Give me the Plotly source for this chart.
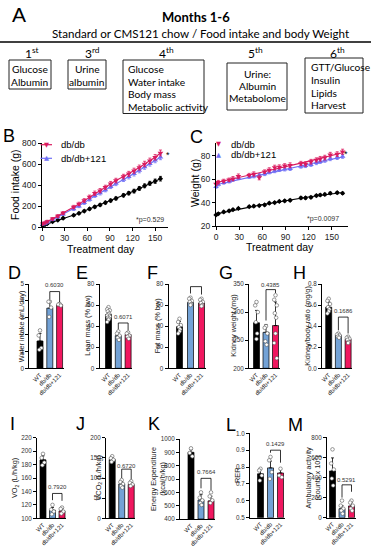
import numpy as np
import plotly.graph_objects as go

W, H = 371, 550
FONT = "Liberation Sans"
AFONT = "Lato"


def fx(x):
    return x / W


def fy(y):
    return 1 - y / H


COL_DB = "#DA1A5E"
COL_121 = "#6F6FF5"
BAR_COLORS = ["#000000", "#73A2D6", "#F0175F"]

groups = ["WT", "db/db", "db/db+121"]

# ---------------- B: cumulative food intake (g) ----------------
B_days = [1, 4, 7, 14, 21, 28, 42, 49, 56, 63, 70, 77, 84, 91, 98, 108, 115, 122, 129, 136, 143, 150, 157]
B_dbdb = [32, 40, 52, 78, 104, 133, 190, 220, 252, 286, 322, 346, 378, 412, 442, 480, 506, 536, 566, 600, 630, 664, 705]
B_dbdb_err = [10, 10, 12, 12, 14, 14, 16, 16, 18, 18, 20, 20, 20, 22, 22, 22, 24, 24, 24, 26, 26, 26, 28]
B_121 = [27, 34, 46, 70, 96, 122, 172, 198, 231, 263, 298, 323, 353, 384, 414, 453, 478, 508, 538, 572, 602, 636, 665]
B_121_err = [8, 8, 10, 10, 12, 12, 14, 14, 16, 16, 16, 18, 18, 18, 20, 20, 20, 22, 22, 22, 22, 24, 24]
B_wt = [15, 22, 32, 50, 66, 84, 112, 130, 152, 172, 192, 210, 232, 252, 272, 302, 322, 342, 367, 392, 416, 436, 460]
B_wt_err = [5, 5, 6, 6, 7, 8, 9, 10, 10, 11, 12, 12, 13, 14, 14, 15, 16, 17, 18, 18, 19, 20, 22]

# ---------------- C: body weight (g) ----------------
C_days = [0, 3, 10, 17, 22, 29, 43, 49, 56, 63, 69, 76, 82, 89, 96, 110, 116, 123, 130, 135, 141, 148, 157, 164]
C_dbdb = [56, 57.5, 58.5, 59.5, 60.5, 62.5, 63.5, 64.5, 61.5, 66.5, 68, 70, 70.5, 71.5, 72, 73.5, 73, 75, 76.5, 77.5, 78.5, 81, 81.5, 83.5]
C_dbdb_err = [1.5, 1.5, 1.5, 1.5, 1.8, 2, 1.5, 1.8, 2, 1.5, 1.8, 2, 1.8, 1.8, 2, 1.8, 1.8, 2, 1.8, 2, 2, 2, 2, 2.2]
C_121 = [53.5, 55.5, 57, 58, 59.5, 61, 62, 62.5, 63.5, 64.5, 66, 67, 68, 68.5, 69, 71, 71.5, 72.5, 74, 75, 76, 77.5, 78.5, 79.5]
C_121_err = [1.2, 1.2, 1.2, 1.2, 1.2, 1.3, 1.3, 1.3, 1.3, 1.4, 1.4, 1.4, 1.4, 1.4, 1.5, 1.5, 1.5, 1.5, 1.5, 1.5, 1.5, 1.6, 1.6, 1.6]
C_wt = [29.5, 30.5, 32, 33, 34, 35, 36.5, 37, 37.5, 38, 39.5, 40, 41, 41.5, 42, 44, 44, 44.5, 46, 46.5, 47, 48, 48.5, 48]
C_wt_err = [0.8, 0.8, 0.8, 0.8, 0.8, 0.8, 0.8, 0.9, 0.9, 0.9, 0.9, 0.9, 0.9, 0.9, 1, 1, 1, 1, 1, 1, 1, 1, 1, 1]

# ---------------- D-M: bar panels ----------------
D_mean = [1.62, 3.57, 3.77]
D_sd = [0.45, 0.42, 0.08]
D_pts = [[2.25, 1.95, 1.2, 1.1], [3.95, 3.95, 3.6, 3.05], [3.82, 3.78, 3.72]]
D_p = "0.6030"

E_mean = [51, 31, 32]
E_sd = [4.5, 3, 2.5]
E_pts = [[58, 56, 55, 54, 52, 51, 50, 49, 48, 47, 46, 44], [35, 33, 31, 29, 27], [34, 33, 31, 30, 28]]
E_p = "0.6071"

F_mean = [39.5, 62.5, 62]
F_sd = [5, 3, 3]
F_pts = [[47, 44, 41, 39, 37, 35, 33], [67, 66, 64, 63, 61, 60], [66, 65, 63, 62, 60, 59]]
F_p = "0.5511"

G_mean = [281, 264, 276]
G_sd = [22, 14, 42]
G_pts = [[318, 312, 300, 282, 262, 252], [275, 272, 262, 248, 242], [330, 322, 312, 298, 290, 262, 245, 218]]
G_p = "0.4385"

H_mean = [0.58, 0.315, 0.275]
H_sd = [0.05, 0.02, 0.02]
H_pts = [[0.66, 0.64, 0.61, 0.58, 0.56, 0.54, 0.52], [0.33, 0.32, 0.31, 0.30, 0.29], [0.30, 0.29, 0.28, 0.27, 0.25, 0.24]]
H_p = "0.1686"

I_mean = [187, 112, 111]
I_sd = [6, 4, 4]
I_pts = [[196, 190, 183, 179], [120, 113, 110, 106], [116, 114, 110, 107]]
I_p = "0.7920"

J_mean = [146, 85, 84]
J_sd = [6, 6, 5]
J_pts = [[154, 149, 145, 140], [95, 90, 85, 80, 76], [92, 88, 84, 80]]
J_p = "0.6720"

K_mean = [900, 543, 536]
K_sd = [20, 40, 35]
K_pts = [[930, 895, 870], [600, 560, 540, 520, 505], [600, 570, 540, 520]]
K_p = "0.7664"

L_mean = [0.76, 0.795, 0.765]
L_sd = [0.03, 0.04, 0.02]
L_pts = [[0.79, 0.78, 0.75, 0.72], [0.86, 0.84, 0.77, 0.73], [0.79, 0.75, 0.74]]
L_p = "0.1429"

M_mean = [465, 90, 117]
M_sd = [130, 30, 40]
M_pts = [[680, 540, 480, 390, 320], [170, 120, 90, 70, 40], [170, 150, 120, 90, 70]]
M_p = "0.5291"

fig = go.Figure()
layout = {}
annotations = []
shapes = []

base_axis = dict(showline=True, linecolor="black", linewidth=1, ticks="outside", ticklen=3,
                 tickwidth=0.8, tickcolor="black", showgrid=False, zeroline=False, fixedrange=True,
                 automargin=False)


def names(n):
    s = "" if n == 1 else str(n)
    return "xaxis" + s, "yaxis" + s, "x" + s, "y" + s


def ann(text, x, y, size, color="black", xanchor="center", yanchor="middle", family=FONT, angle=0, **kw):
    annotations.append(dict(text=text, x=fx(x), y=fy(y), xref="paper", yref="paper", showarrow=False,
                            xanchor=xanchor, yanchor=yanchor, textangle=angle,
                            font=dict(size=size, color=color, family=family), **kw))


# ---------------- Panel A ----------------
ann("A", 19, 14.5, 21)
ann("<b>Months 1-6</b>", 196, 17, 13, family=AFONT)
ann("Standard or CMS121 chow / Food intake and body Weight", 201, 33, 11.6, family=AFONT)
shapes.append(dict(type="line", xref="paper", yref="paper", x0=fx(0), x1=fx(371), y0=fy(42), y1=fy(42),
                   line=dict(color="black", width=1.5)))
for lab, x in [("1<sup>st</sup>", 32), ("3<sup>rd</sup>", 92), ("4<sup>th</sup>", 166),
               ("5<sup>th</sup>", 255), ("6<sup>th</sup>", 337)]:
    ann(lab, x, 52.5, 12, family=AFONT)
for (x0, y0, x1, y1) in [(9, 60, 51, 89), (68, 60, 106, 89), (123, 60, 204, 113.5),
                         (227, 63, 287, 110), (305, 58, 363, 113)]:
    shapes.append(dict(type="rect", xref="paper", yref="paper", x0=fx(x0), x1=fx(x1), y0=fy(y1), y1=fy(y0),
                       line=dict(color="#222", width=1)))
box_text = [
    (["Glucose", "Albumin"], 30, [69.5, 81.7], "center"),
    (["Urine", "albumin"], 87, [69.5, 81.7], "center"),
    (["Glucose", "Water intake", "Body mass", "Metabolic activity"], 126, [69, 81.5, 94, 106.7], "left"),
    (["Urine:", "Albumin", "Metabolome"], 257, [73.7, 86, 98], "center"),
    (["GTT/Glucose", "Insulin", "Lipids", "Harvest"], 308.5, [67.5, 80, 92.5, 105], "left"),
]
for lines, x, ys, anc in box_text:
    for t, y in zip(lines, ys):
        ann(t, x, y, 10.2, family=AFONT, xanchor=anc)

# ---------------- B & C line panels ----------------
line_panels = [
    dict(n=1, xdom=(42, 168), xr=[0, 167], ydom=(143, 227), yr=[0, 800], dtick=200, days=B_days,
         series=[(B_wt, B_wt_err, "black", "diamond"), (B_121, B_121_err, COL_121, "triangle-up"),
                 (B_dbdb, B_dbdb_err, COL_DB, "triangle-down")], fit=False),
    dict(n=2, xdom=(216, 348), xr=[0, 171], ydom=(143, 226), yr=[20, 91], dtick=20, days=C_days,
         series=[(C_wt, C_wt_err, "black", "diamond"), (C_121, C_121_err, COL_121, "triangle-up"),
                 (C_dbdb, C_dbdb_err, COL_DB, "triangle-down")], fit=True),
]
for P in line_panels:
    xa, ya, xr, yr = names(P["n"])
    layout[xa] = dict(base_axis, domain=[fx(P["xdom"][0]), fx(P["xdom"][1])], range=P["xr"], anchor=yr,
                      tickvals=[0, 30, 60, 90, 120, 150], tickfont=dict(size=8.5, color="#222"))
    layout[ya] = dict(base_axis, domain=[fy(P["ydom"][1]), fy(P["ydom"][0])], range=P["yr"], anchor=xr,
                      dtick=P["dtick"], tick0=0, tickfont=dict(size=8.5, color="#222"))
    for vals, errs, col, sym in P["series"]:
        size = 4 if sym == "diamond" else 5
        if P["fit"]:
            coef = np.polyfit(P["days"], vals, 2)
            xs = np.linspace(min(P["days"]), max(P["days"]), 60)
            fig.add_trace(go.Scatter(x=xs, y=np.polyval(coef, xs), mode="lines", line=dict(color=col, width=1.1),
                                     xaxis=xr, yaxis=yr, showlegend=False, hoverinfo="skip"))
            mode = "markers"
        else:
            mode = "lines+markers"
        fig.add_trace(go.Scatter(x=P["days"], y=vals, mode=mode, line=dict(color=col, width=1.1),
                                 marker=dict(symbol=sym, size=size, color=col),
                                 error_y=dict(type="data", array=errs, color=col, thickness=0.8, width=1.5),
                                 xaxis=xr, yaxis=yr, showlegend=False, cliponaxis=False))

# titles & letters B/C
ann("B", 9, 135.5, 18)
ann("C", 196, 136.5, 18)
ann("Food intake (g)", 15, 185, 10.5, angle=-90)
ann("Weight (g)", 195, 183, 10.5, angle=-90)
ann("Treatment day", 101, 248.5, 10.5)
ann("Treatment day", 280, 247.5, 10.5)
ann("*", 168, 155, 9)
ann("*", 346, 154, 9)
ann("*p=0.529", 166, 220, 7, color="#333", xanchor="right")
ann("*p=0.0097", 341, 219, 7, color="#333", xanchor="right")
# legends B
for y, col, glyph, txt in [(144.7, COL_DB, "\u25BC", "db/db"), (158.3, COL_121, "\u25B2", "db/db+121")]:
    shapes.append(dict(type="line", xref="paper", yref="paper", x0=fx(40.5), x1=fx(52), y0=fy(y), y1=fy(y),
                       line=dict(color=col, width=1.2)))
    ann(glyph, 46.3, y, 6.5, color=col, family="DejaVu Sans")
    ann(txt, 58.5, y, 9.5, xanchor="left")
# legends C
for y, col, glyph, txt in [(144, COL_DB, "\u25BC", "db/db"), (154.7, COL_121, "\u25B2", "db/db+121")]:
    ann(glyph, 218, y, 6.5, color=col, family="DejaVu Sans")
    ann(txt, 228.5, y, 9.5, xanchor="left")

# ---------------- bar panels ----------------
bar_panels = [
    dict(L="D", ax=29.3, c0=40, sp=9.8, top=284, bot=368.3, yr=[0, 5], dtick=1, fmt="d",
         mean=D_mean, sd=D_sd, pts=D_pts, p=D_p, br=(4.08, 4.55, 3.92), pt=4.95,
         title="Water intake (mL/day)", tx=21, lx=14, ly=272.5),
    dict(L="E", ax=99.5, c0=108.5, sp=9.8, top=284, bot=368.3, yr=[0, 80], dtick=20, fmt="d",
         mean=E_mean, sd=E_sd, pts=E_pts, p=E_p, br=(37, 43, 36), pt=48.5,
         title="Lean mass (% bw)", tx=87.5, lx=82, ly=272.5),
    dict(L="F", ax=168.5, c0=179.5, sp=11, top=284, bot=368.3, yr=[0, 80], dtick=20, fmt="d",
         mean=F_mean, sd=F_sd, pts=F_pts, p=F_p, br=(71, 77.5, 70), pt=82.5,
         title="Fat mass (% bw)", tx=157, lx=152, ly=272.5),
    dict(L="G", ax=249, c0=256.5, sp=9.5, top=284, bot=368.3, yr=[200, 350], dtick=50, fmt="d",
         mean=G_mean, sd=G_sd, pts=G_pts, p=G_p, br=(285, 340, 334), pt=349,
         title="Kidney weight (mg)", tx=233.5, lx=226, ly=272.5),
    dict(L="H", ax=322, c0=328.7, sp=9.7, top=284, bot=368.3, yr=[0, 0.8], dtick=0.2, fmt=".1f",
         mean=H_mean, sd=H_sd, pts=H_pts, p=H_p, br=(0.36, 0.486, 0.33), pt=0.545,
         title="Kidney/body ratio (mg/g)", tx=307.5, lx=299, ly=272.5),
    dict(L="I", ax=37, c0=43, sp=9.5, top=437.7, bot=518.3, yr=[100, 220], dtick=20, fmt="d",
         mean=I_mean, sd=I_sd, pts=I_pts, p=I_p, br=(127, 137, 126), pt=146,
         title="VO<sub>2</sub> (L/h/kg)", tx=15, lx=12, ly=424),
    dict(L="J", ax=106, c0=112.2, sp=9.5, top=437.7, bot=518.3, yr=[0, 200], dtick=50, fmt="d",
         mean=J_mean, sd=J_sd, pts=J_pts, p=J_p, br=(100, 122, 97), pt=130,
         title="VCO<sub>2</sub> (L/h/kg)", tx=98.5, lx=80, ly=424),
    dict(L="K", ax=180, c0=191, sp=10, top=439, bot=519, yr=[400, 1000], dtick=100, fmt="d",
         mean=K_mean, sd=K_sd, pts=K_pts, p=K_p, br=(630, 705, 617), pt=755,
         title="Energy Expenditure<br>(kcal/h/kg)", tx=158, lx=154, ly=424),
    dict(L="L", ax=250, c0=260.5, sp=10, top=433.3, bot=517.7, yr=[0.5, 1.0], dtick=0.1, fmt=".1f",
         mean=L_mean, sd=L_sd, pts=L_pts, p=L_p, br=(0.885, 0.9, 0.826), pt=0.937,
         title="RER", tx=237.5, lx=231, ly=425),
    dict(L="M", ax=327, c0=332.5, sp=9.5, top=437.3, bot=517.7, yr=[0, 800], dtick=200, fmt="d",
         mean=M_mean, sd=M_sd, pts=M_pts, p=M_p, br=(200, 327, 258), pt=377,
         title="Ambulatory activity<br>(counts x 10<sup>3</sup>)", tx=312, lx=295, ly=425),
]

jit = [0, -1, 1, -0.5, 0.5]
for i, P in enumerate(bar_panels):
    n = i + 3
    xa, ya, xr, yr = names(n)
    sp = P["sp"]
    left = -(P["c0"] - P["ax"]) / sp
    right_px = P["c0"] + 2 * sp + 4
    layout[xa] = dict(base_axis, domain=[fx(P["ax"]), fx(right_px)], range=[left, 2 + 4 / sp], anchor=yr,
                      tickvals=[0, 1, 2], ticktext=groups, tickangle=-45, ticks="",
                      tickfont=dict(size=6, color="#222"))
    layout[ya] = dict(base_axis, domain=[fy(P["bot"]), fy(P["top"])], range=P["yr"], anchor=xr,
                      dtick=P["dtick"], tick0=P["yr"][0], tickformat=P["fmt"],
                      tickfont=dict(size=6.3, color="#333"))
    y0 = P["yr"][0]
    fig.add_trace(go.Bar(x=[0, 1, 2], y=[m - y0 for m in P["mean"]], base=y0, width=6 / sp,
                         marker=dict(color=BAR_COLORS, line=dict(color="black", width=0.7)),
                         error_y=dict(type="data", array=P["sd"], arrayminus=[0, 0, 0], symmetric=False,
                                      color="black", thickness=0.8, width=1.5),
                         xaxis=xr, yaxis=yr, showlegend=False))
    for g in range(3):
        vals = P["pts"][g]
        xs = [g + jit[k % len(jit)] * 1.3 / sp for k in range(len(vals))]
        fig.add_trace(go.Scatter(x=xs, y=vals, mode="markers",
                                 marker=dict(size=3.6, color="white", line=dict(color="#555", width=0.6)),
                                 xaxis=xr, yaxis=yr, showlegend=False, cliponaxis=False))
    yl, ytop, yrr = P["br"]
    shapes.append(dict(type="path", xref=xr, yref=yr,
                       path=f"M 1,{yl} L 1,{ytop} L 2,{ytop} L 2,{yrr}",
                       line=dict(color="black", width=0.8)))
    annotations.append(dict(text=P["p"], x=1.5, y=P["pt"], xref=xr, yref=yr, showarrow=False,
                            font=dict(size=6, color="#333", family=FONT)))
    ymid = (P["top"] + P["bot"]) / 2
    ann(P["title"], P["tx"], ymid, 7.3, angle=-90, color="#222")
    ann(P["L"], P["lx"], P["ly"], 18)

fig.update_layout(**layout)
fig.update_layout(template="none", width=W, height=H, margin=dict(l=0, r=0, t=0, b=0, autoexpand=False),
                  autosize=False, paper_bgcolor="white", plot_bgcolor="rgba(0,0,0,0)", showlegend=False,
                  font=dict(family=FONT, color="black"), annotations=annotations, shapes=shapes,
                  barmode="overlay")
fig.write_html("out.html", config={"displayModeBar": False},
               post_script="document.body.style.margin='0';document.body.style.padding='0';")
